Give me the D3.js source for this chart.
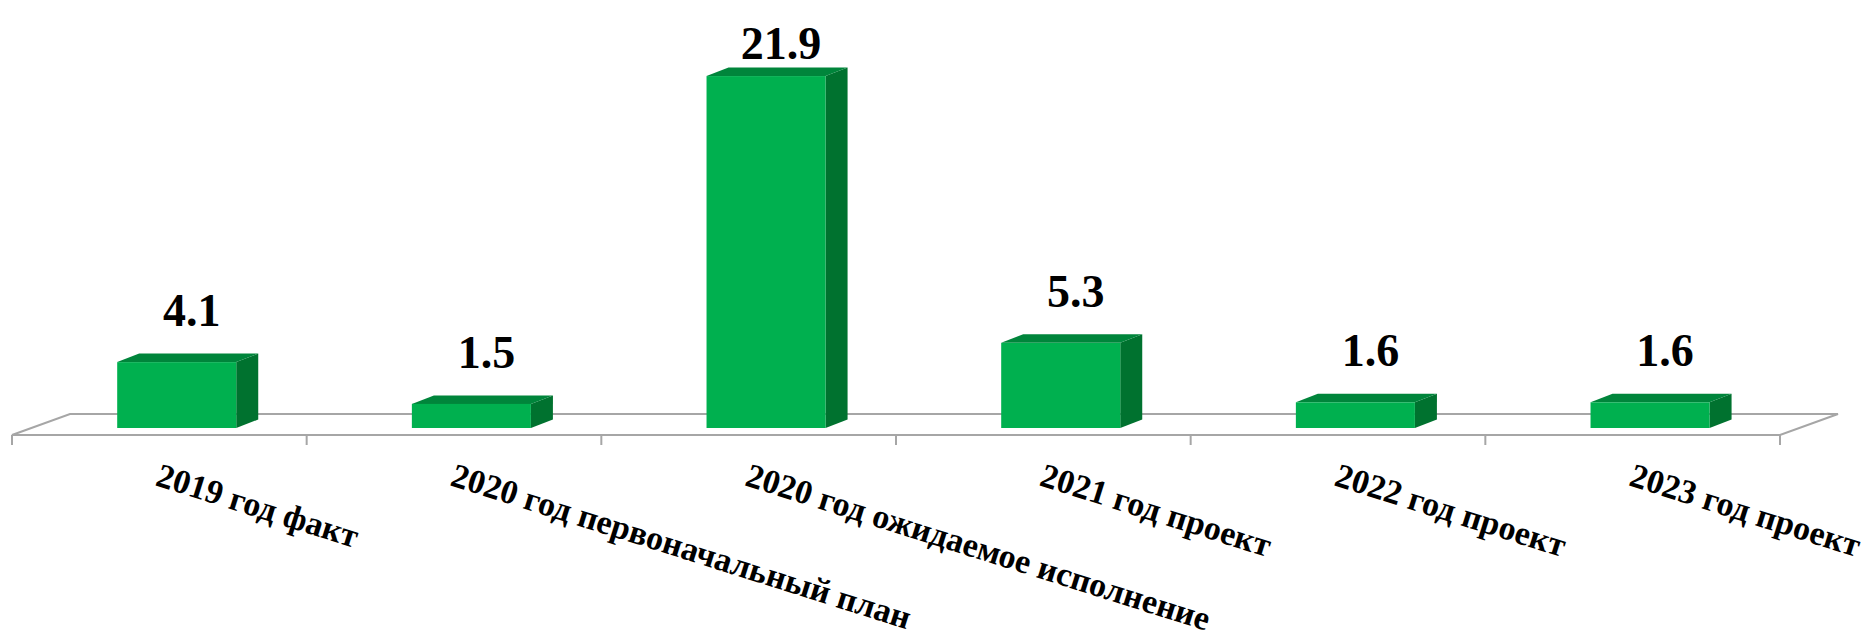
<!DOCTYPE html>
<html lang="ru">
<head>
    <meta charset="UTF-8"/>
    <title>Chart</title>
    <script src="https://d3js.org/d3.v7.min.js"></script>
    <style>
        body { margin: 0; background: #fff; }
        text { font-family: "Liberation Serif", "Times New Roman", serif; font-weight: bold; fill: #000; }
    </style>
</head>
<body>
<script>
    var categories = [
        "2019 год факт",
        "2020 год первоначальный план",
        "2020 год ожидаемое исполнение",
        "2021 год проект",
        "2022 год проект",
        "2023 год проект"
    ];
    var values = [4.1, 1.5, 21.9, 5.3, 1.6, 1.6];
    var valueLabels = ["4.1", "1.5", "21.9", "5.3", "1.6", "1.6"];

    var w = 1872;
    var h = 633;

    // floor geometry
    var floorFront = 435, floorBack = 414;
    var depthX = 58;       // floor depth offset
    var barDx = 22, barDy = 8.5;   // bar side depth
    var baseY = 428;       // bar front bottom

    var svg = d3.select("body")
        .append("svg")
        .attr("width", w)
        .attr("height", h);

    var xScale = d3.scaleBand()
        .domain(categories)
        .range([12, 1780]);

    var yScale = d3.scaleLinear()
        .domain([0, 22])
        .range([baseY, baseY - 22 * 16.07]);

    var bw = xScale.bandwidth();
    var frontLeft = function(d) { return xScale(d) + bw * 0.357; };
    var frontW = bw * 0.404;

    // floor
    var floorColor = "#a6a6a6";
    var floor = svg.append("g")
        .attr("stroke", floorColor)
        .attr("stroke-width", 2)
        .attr("fill", "none");
    floor.append("path")
        .attr("d", "M12," + floorFront + "L1780," + floorFront +
            "L" + (1780 + depthX) + "," + floorBack +
            "L" + (12 + depthX) + "," + floorBack + "Z");

    // ticks on front edge
    var tickPos = categories.map(function(d) { return xScale(d); }).concat([1780]);
    floor.selectAll("line")
        .data(tickPos)
        .enter()
        .append("line")
        .attr("x1", function(d) { return d; })
        .attr("x2", function(d) { return d; })
        .attr("y1", floorFront)
        .attr("y2", floorFront + 10);

    var data = categories.map(function(c, i) { return { cat: c, v: values[i], label: valueLabels[i] }; });

    var bars = svg.selectAll("g.bar")
        .data(data)
        .enter()
        .append("g")
        .attr("class", "bar");

    // side face
    bars.append("path")
        .attr("fill", "#00722f")
        .attr("d", function(d) {
            var x1 = frontLeft(d.cat) + frontW, yt = yScale(d.v);
            return "M" + x1 + "," + yt + "L" + (x1 + barDx) + "," + (yt - barDy) +
                "L" + (x1 + barDx) + "," + (baseY - barDy) + "L" + x1 + "," + baseY + "Z";
        });

    // top face
    bars.append("path")
        .attr("fill", "#00853b")
        .attr("d", function(d) {
            var x0 = frontLeft(d.cat), x1 = x0 + frontW, yt = yScale(d.v);
            return "M" + x0 + "," + yt + "L" + (x0 + barDx) + "," + (yt - barDy) +
                "L" + (x1 + barDx) + "," + (yt - barDy) + "L" + x1 + "," + yt + "Z";
        });

    // front face
    bars.append("rect")
        .attr("fill", "#00b04f")
        .attr("x", function(d) { return frontLeft(d.cat); })
        .attr("y", function(d) { return yScale(d.v); })
        .attr("width", frontW)
        .attr("height", function(d) { return baseY - yScale(d.v); });

    // value labels
    svg.selectAll("text.val")
        .data(data)
        .enter()
        .append("text")
        .attr("class", "val")
        .attr("text-anchor", "middle")
        .attr("font-size", "46px")
        .attr("x", function(d) { return frontLeft(d.cat) + frontW / 2 + 15; })
        .attr("y", function(d) { return Math.max(59, yScale(d.v) - 36); })
        .text(function(d) { return d.label; });

    // category labels, rotated
    svg.selectAll("text.cat")
        .data(categories)
        .enter()
        .append("text")
        .attr("class", "cat")
        .attr("font-size", "34px")
        .attr("transform", function(d) {
            return "translate(" + (xScale(d) + bw / 2 - 5) + ",485) rotate(17.5)";
        })
        .text(function(d) { return d; });
</script>
</body>
</html>
